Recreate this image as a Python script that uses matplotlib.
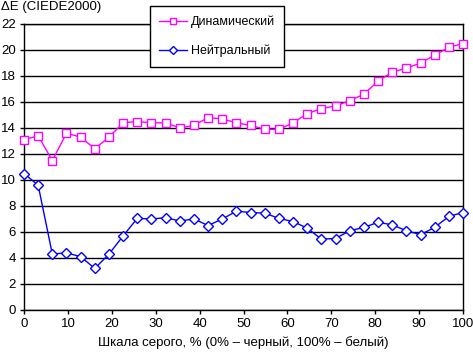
import matplotlib
matplotlib.use("Agg")
import matplotlib.pyplot as plt

plt.rcParams["font.family"] = ["Liberation Sans", "DejaVu Sans"]
plt.rcParams["font.size"] = 9.5

# 32 grey levels, evenly spaced 0..100 %
x = [i * 100 / 31 for i in range(32)]

dynamic = [13.1, 13.4, 11.5, 13.6, 13.3, 12.4, 13.3, 14.4, 14.5, 14.4, 14.4, 14.0,
           14.2, 14.8, 14.7, 14.4, 14.2, 13.9, 13.9, 14.4, 15.1, 15.5, 15.7, 16.1,
           16.6, 17.6, 18.3, 18.6, 19.0, 19.6, 20.2, 20.5]
neutral = [10.5, 9.6, 4.3, 4.4, 4.1, 3.2, 4.3, 5.7, 7.05, 7.0, 7.1, 6.85,
           7.0, 6.5, 7.0, 7.6, 7.5, 7.45, 7.05, 6.8, 6.3, 5.45, 5.5, 6.1,
           6.35, 6.75, 6.55, 6.1, 5.8, 6.35, 7.2, 7.5]

xticks = list(range(0, 101, 10))
yticks = list(range(0, 23, 2))

fig = plt.figure(figsize=(4.73, 3.53), dpi=100)
ax = fig.add_axes([24 / 473, 1 - 310 / 353, 439 / 473, 286 / 353])

ax.plot(x, dynamic, color="#FF00FF", linewidth=1, marker="s", markersize=5.5,
        markerfacecolor="white", markeredgecolor="#FF00FF", markeredgewidth=1,
        label="Динамический", zorder=3, clip_on=False)
ax.plot(x, neutral, color="#0000FF", linewidth=1, marker="D", markersize=5,
        markerfacecolor="white", markeredgecolor="#0000FF", markeredgewidth=1,
        label="Нейтральный", zorder=3, clip_on=False)

ax.set_xlim(0, 100)
ax.set_ylim(0, 22)
ax.set_xticks(xticks)
ax.set_yticks(yticks)
ax.yaxis.grid(True, color="black", linewidth=1)
ax.set_axisbelow(True)
for s in ax.spines.values():
    s.set_linewidth(1)
    s.set_color("black")
ax.tick_params(axis="both", length=3, width=1, direction="out", labelsize=9.5, pad=3)

ax.set_xlabel("Шкала серого, % (0% – черный, 100% – белый)", fontsize=9.5, labelpad=4)
fig.text(1 / 473, 1 - 1 / 353, "ΔE (CIEDE2000)", ha="left", va="top", fontsize=9.5)

leg = fig.legend(loc="upper left", bbox_to_anchor=(150 / 473, 1 - 6 / 353),
                 borderaxespad=0, frameon=True, fancybox=False, edgecolor="black",
                 framealpha=1, handlelength=2.2, labelspacing=1.35, borderpad=0.75,
                 handletextpad=0.3, fontsize=9, markerscale=0.9)
leg.get_frame().set_linewidth(1)

plt.savefig("out.png", dpi=100)
